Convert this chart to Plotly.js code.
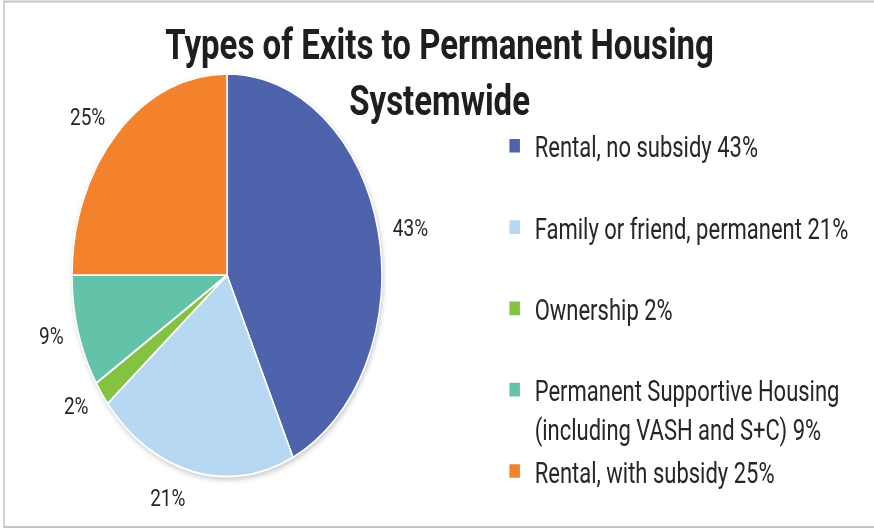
<!DOCTYPE html>
<html>
<head>
<meta charset="utf-8">
<script src="https://cdn.plot.ly/plotly-3.0.1.min.js"></script>
<style>
  html, body { margin: 0; padding: 0; background: #fff; width: 874px; height: 529px; overflow: hidden; }
  /* the source picture is stretched vertically, so draw at 407px and stretch */
  #chart { width: 874px; height: 407px; transform: scaleY(1.3); transform-origin: 0 0; }
  #chart .pielayer .trace:first-child { filter: drop-shadow(1px 2px 2px rgba(0,0,0,0.2)); }
</style>
</head>
<body>
<div id="chart"></div>
<script>
const categories = [
    'Rental, no subsidy',
    'Family or friend, permanent',
    'Ownership',
    'Permanent Supportive Housing<br>(including VASH and S+C)',
    'Rental, with subsidy'
];
const shares = [43, 21, 2, 9, 25];
const sliceColors = ['#4f63ad', '#b6d8f2', '#84c341', '#63c3a8', '#f4812b'];

// legend entries carry the share; single-line ones (but the last) get a blank second line
const span = s => `<span style="font-size:22px">${s}</span>`;
const legendLabels = categories.map((c, i) => {
    const lines = `${c} ${shares[i]}%`.split('<br>');
    if (lines.length > 1) return lines.map(span).join('<br>');
    return i < categories.length - 1 ? span(lines[0]) + '<br> ' : span(lines[0]);
});

const pieX = [0.0824, 0.437], pieY = [0.099, 0.861];
// a clear copy a little wider only carries the percent labels, set off from the edge like the source
const labelX = [0.0721, 0.4474], labelY = [0.077, 0.883];

const data = [{
    type: 'pie',
    labels: legendLabels,
    values: shares,
    sort: false,
    direction: 'clockwise',
    rotation: 0,
    marker: { colors: sliceColors, line: { color: '#ffffff', width: 1.5 } },
    textinfo: 'none',
    domain: { x: pieX, y: pieY },
    hoverinfo: 'none'
}, {
    type: 'pie',
    labels: legendLabels,
    values: shares,
    sort: false,
    direction: 'clockwise',
    rotation: 0,
    showlegend: false,
    marker: { colors: sliceColors.map(() => 'rgba(0,0,0,0)'), line: { width: 0 } },
    textinfo: 'percent',
    textposition: 'outside',
    outsidetextfont: { family: 'Roboto', size: 19, color: '#262626' },
    domain: { x: labelX, y: labelY },
    hoverinfo: 'none'
}];

const layout = {
    width: 874,
    height: 407,
    margin: { l: 0, r: 0, t: 0, b: 0 },
    paper_bgcolor: '#ffffff',
    font: { family: 'Roboto', color: '#262626' },
    title: {
        text: 'Types of Exits to Permanent Housing<br>Systemwide',
        font: { family: 'Roboto', size: 33, weight: 'bold', color: '#1e1e1e' },
        x: 0.503, xanchor: 'center',
        y: 0.888, yanchor: 'top', yref: 'container'
    },
    showlegend: true,
    legend: {
        x: 0.566, xanchor: 'left',
        y: 0.777, yanchor: 'top',
        valign: 'top',
        font: { family: 'Roboto', size: 22.9, color: '#262626' },
        bgcolor: 'rgba(0,0,0,0)'
    },
    shapes: [{
        type: 'rect', xref: 'paper', yref: 'paper',
        x0: 0.0046, x1: 1.02, y0: 0.004, y1: 0.997,
        line: { color: '#c4c4c4', width: 1.5 }
    }]
};

Plotly.newPlot('chart', data, layout, { displayModeBar: false, staticPlot: true });
</script>
</body>
</html>
